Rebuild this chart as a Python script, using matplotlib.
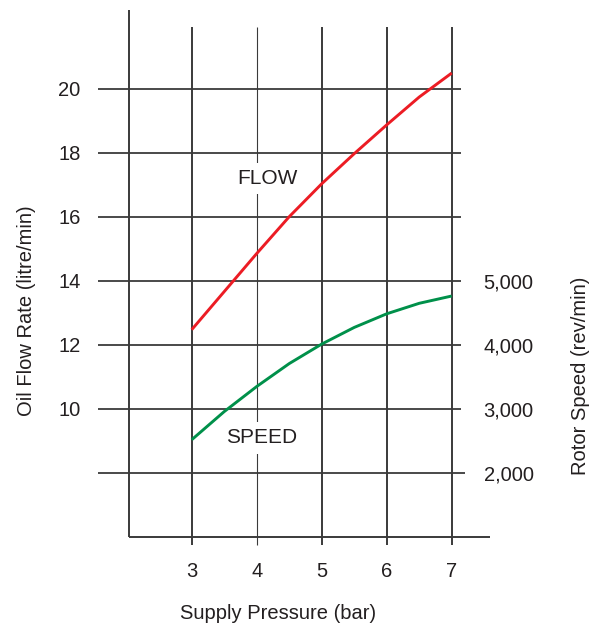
import numpy as np
import matplotlib.pyplot as plt

#### Data ####
pressure = [3, 3.5, 4, 4.5, 5, 5.5, 6, 6.5, 7]
flow = [12.47, 13.66, 14.85, 16.0, 17.03, 17.97, 18.87, 19.74, 20.49]       # litre/min
speed = [2515, 2955, 3347, 3705, 4010, 4270, 4483, 4647, 4761]             # rev/min

pressure_ticks = [3, 4, 5, 6, 7]
flow_ticks = [10, 12, 14, 16, 18, 20]
speed_ticks = [2000, 3000, 4000, 5000]
speed_tick_labels = ['2,000', '3,000', '4,000', '5,000']
grid_rows = [8, 10, 12, 14, 16, 18, 20]

#### Style ####
plt.rcParams['font.family'] = ['Liberation Sans', 'DejaVu Sans']
ink = '#231f20'
grid_col = '#3a3a3a'
red = '#ec1c24'
green = '#00904a'

# speed axis is tied to flow axis: rpm = 500*flow - 2000
def to_rpm(v):
    return 500 * v - 2000

x_left, x_right = 2.035, 7.138
y_low, y_top = 6.0, 22.46

fig = plt.figure(figsize=(5.97, 6.23), dpi=100)
ax = fig.add_axes([129/597, 86.3/623, 331.7/597, 526.7/623])
ax.set_xlim(x_left, x_right)
ax.set_ylim(y_low, y_top)
for s in ax.spines.values():
    s.set_visible(False)

#### Grid / frame ####
for yv in grid_rows:
    ax.hlines(yv, 1.554, 7.2 if yv == 8 else 7.138, color=grid_col, lw=1.3, clip_on=False, zorder=1)
for xv in pressure_ticks:
    ax.vlines(xv, 5.74, 21.92, color=grid_col, lw=0.8 if xv == 4 else 1.4, clip_on=False, zorder=1)
ax.vlines(x_left, y_low, y_top, color=grid_col, lw=1.4, clip_on=False, zorder=1)
ax.hlines(y_low, x_left, 7.59, color=grid_col, lw=1.4, clip_on=False, zorder=1)

#### Curves ####
ax.plot(pressure, flow, color=red, lw=2.1, zorder=3, solid_capstyle='butt', solid_joinstyle='round')

ax2 = ax.twinx()
ax2.set_ylim(to_rpm(y_low), to_rpm(y_top))
for s in ax2.spines.values():
    s.set_visible(False)
ax2.plot(pressure, speed, color=green, lw=2.1, zorder=3, solid_capstyle='butt', solid_joinstyle='round')

#### Curve labels ####
box = dict(boxstyle='square,pad=0.3', fc='white', ec='none')
ax2.text(4.16, to_rpm(17.2), 'FLOW', ha='center', va='center', fontsize=15, color=ink, bbox=box, zorder=4)
ax2.text(4.07, to_rpm(9.09), 'SPEED', ha='center', va='center', fontsize=15, color=ink, bbox=box, zorder=4)

#### Ticks ####
ax.set_xticks(pressure_ticks)
ax.set_yticks(flow_ticks)
ax.tick_params(axis='x', length=0, pad=18.5, labelsize=14.5, labelcolor=ink)
ax.tick_params(axis='y', length=0, pad=35, labelsize=14.5, labelcolor=ink)
ax2.set_yticks(speed_ticks)
ax2.set_yticklabels(speed_tick_labels)
ax2.tick_params(axis='y', length=0, pad=16.5, labelsize=14.5, labelcolor=ink)

#### Axis labels ####
ax.set_xlabel('Supply Pressure (bar)', fontsize=14.5, color=ink)
ax.xaxis.set_label_coords(0.449, -0.128)
ax.set_ylabel('Oil Flow Rate (litre/min)', fontsize=14.5, color=ink)
ax.yaxis.set_label_coords(-0.280, 0.4285)
ax2.set_ylabel('Rotor Speed (rev/min)', fontsize=14.5, color=ink)
ax2.yaxis.set_label_coords(1.3325, 0.305)

fig.savefig('out.png', dpi=100)
